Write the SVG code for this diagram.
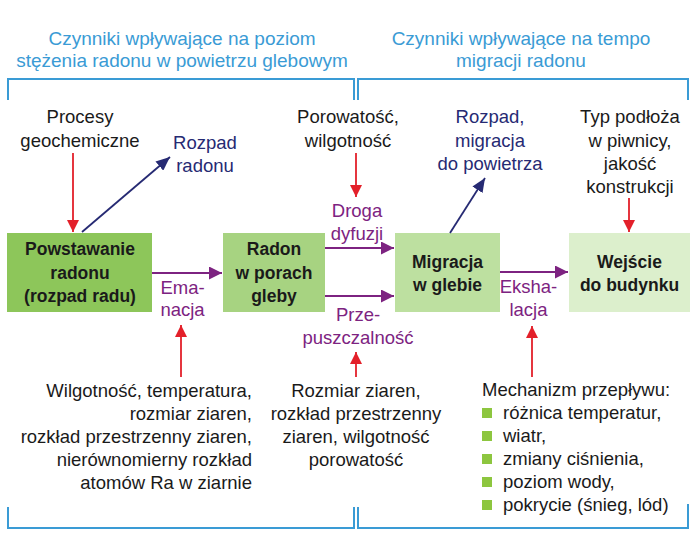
<svg xmlns="http://www.w3.org/2000/svg" width="700" height="541" viewBox="0 0 700 541">
<defs>
<style>
text{font-family:"Liberation Sans",Arial,sans-serif;}
.t{font-size:19px;fill:#3a9bd5;text-anchor:middle;}
.b{font-size:18.5px;fill:#1a1a1a;text-anchor:middle;}
.bx{font-size:17.5px;font-weight:bold;fill:#1a1a1a;text-anchor:middle;}
.nv{font-size:18.5px;fill:#262a73;text-anchor:middle;}
.pu{font-size:18.5px;fill:#7d2381;text-anchor:middle;}
.br{fill:none;stroke:#3a9bd5;stroke-width:2;}
.red{stroke:#e3202a;stroke-width:1.8;fill:none;marker-end:url(#mr);}
.nav{stroke:#262a73;stroke-width:1.8;fill:none;marker-end:url(#mn);}
.pur{stroke:#7d2381;stroke-width:2;fill:none;marker-end:url(#mp);}
.sq{fill:#8dc63f;}
</style>
<marker id="mr" viewBox="0 0 12 12" refX="12" refY="6" markerWidth="12" markerHeight="12" markerUnits="userSpaceOnUse" orient="auto"><path d="M0,0 L12,6 L0,12 Z" fill="#e3202a"/></marker>
<marker id="mn" viewBox="0 0 14 12" refX="14" refY="6" markerWidth="14" markerHeight="12" markerUnits="userSpaceOnUse" orient="auto"><path d="M0,0 L14,6 L0,12 Z" fill="#262a73"/></marker>
<marker id="mp" viewBox="0 0 13 13" refX="13" refY="6.5" markerWidth="13" markerHeight="13" markerUnits="userSpaceOnUse" orient="auto"><path d="M0,0 L13,6.5 L0,13 Z" fill="#7d2381"/></marker>
</defs>
<rect width="700" height="541" fill="#ffffff"/>

<g id="titles">
<text class="t" x="182" y="45">Czynniki wpływające na poziom</text>
<text class="t" x="182" y="67">stężenia radonu w powietrzu glebowym</text>
<text class="t" x="521" y="45">Czynniki wpływające na tempo</text>
<text class="t" x="521" y="67">migracji radonu</text>
</g>

<g id="brackets">
<path class="br" d="M8,100 V79 H354 V100"/>
<path class="br" d="M358,100 V79 H688 V100"/>
<path class="br" d="M8,507 V528 H354 V507"/>
<path class="br" d="M358,507 V528 H688 V504"/>
</g>

<g id="n1">
<rect x="7" y="233" width="145" height="79" fill="#8dc65a"/>
<text class="bx" x="80" y="255">Powstawanie</text>
<text class="bx" x="80" y="279">radonu</text>
<text class="bx" x="80" y="302">(rozpad radu)</text>
</g>
<g id="n2">
<rect x="223" y="233" width="102" height="79" fill="#a7d381"/>
<text class="bx" x="274" y="255">Radon</text>
<text class="bx" x="274" y="279">w porach</text>
<text class="bx" x="274" y="302">gleby</text>
</g>
<g id="n3">
<rect x="395" y="233" width="105" height="79" fill="#bde0a0"/>
<text class="bx" x="447.5" y="268">Migracja</text>
<text class="bx" x="447.5" y="291">w glebie</text>
</g>
<g id="n4">
<rect x="569" y="233" width="121" height="79" fill="#dcefcc"/>
<text class="bx" x="629.5" y="268">Wejście</text>
<text class="bx" x="629.5" y="291">do budynku</text>
</g>

<g id="factors">
<text class="b" x="80" y="123">Procesy</text>
<text class="b" x="80" y="147">geochemiczne</text>
<text class="nv" x="205" y="149">Rozpad</text>
<text class="nv" x="205" y="172">radonu</text>
<text class="b" x="348" y="123">Porowatość,</text>
<text class="b" x="348" y="147">wilgotność</text>
<text class="nv" x="490" y="123">Rozpad,</text>
<text class="nv" x="490" y="147">migracja</text>
<text class="nv" x="490" y="170">do powietrza</text>
<text class="b" x="630" y="123">Typ podłoża</text>
<text class="b" x="630" y="147">w piwnicy,</text>
<text class="b" x="630" y="170">jakość</text>
<text class="b" x="630" y="193">konstrukcji</text>

<text class="pu" x="182.5" y="294">Ema-</text>
<text class="pu" x="182.5" y="316">nacja</text>
<text class="pu" x="357" y="217">Droga</text>
<text class="pu" x="357" y="240">dyfuzji</text>
<text class="pu" x="358" y="321">Prze-</text>
<text class="pu" x="358" y="344">puszczalność</text>
<text class="pu" x="528.5" y="293">Eksha-</text>
<text class="pu" x="528.5" y="316">lacja</text>

<g text-anchor="end">
<text class="b" x="252" y="397" style="text-anchor:end">Wilgotność, temperatura,</text>
<text class="b" x="252" y="420" style="text-anchor:end">rozmiar ziaren,</text>
<text class="b" x="252" y="443" style="text-anchor:end">rozkład przestrzenny ziaren,</text>
<text class="b" x="252" y="466" style="text-anchor:end">nierównomierny rozkład</text>
<text class="b" x="252" y="489" style="text-anchor:end">atomów Ra w ziarnie</text>
</g>

<text class="b" x="356" y="397">Rozmiar ziaren,</text>
<text class="b" x="356" y="420">rozkład przestrzenny</text>
<text class="b" x="356" y="443">ziaren, wilgotność</text>
<text class="b" x="356" y="466">porowatość</text>

<text class="b" x="482" y="396" style="text-anchor:start">Mechanizm przepływu:</text>
<rect class="sq" x="482" y="408" width="10" height="10"/>
<text class="b" x="503" y="419" style="text-anchor:start">różnica temperatur,</text>
<rect class="sq" x="482" y="431" width="10" height="10"/>
<text class="b" x="503" y="442" style="text-anchor:start">wiatr,</text>
<rect class="sq" x="482" y="454" width="10" height="10"/>
<text class="b" x="503" y="465" style="text-anchor:start">zmiany ciśnienia,</text>
<rect class="sq" x="482" y="477" width="10" height="10"/>
<text class="b" x="503" y="488" style="text-anchor:start">poziom wody,</text>
<rect class="sq" x="482" y="500" width="10" height="10"/>
<text class="b" x="503" y="511" style="text-anchor:start">pokrycie (śnieg, lód)</text>
</g>

<g id="connectors">
<line class="red" x1="73" y1="153" x2="73" y2="232"/>
<line class="red" x1="356" y1="153" x2="356" y2="197"/>
<line class="red" x1="629" y1="198" x2="629" y2="232"/>
<line class="red" x1="181" y1="377" x2="181" y2="325"/>
<line class="red" x1="356" y1="377" x2="356" y2="352"/>
<line class="red" x1="532" y1="377" x2="532" y2="326"/>
<line class="nav" x1="82" y1="232" x2="170" y2="157"/>
<line class="nav" x1="450" y1="233" x2="485" y2="178"/>
<line class="pur" x1="152" y1="273" x2="222" y2="273"/>
<line class="pur" x1="325" y1="248" x2="394" y2="248"/>
<line class="pur" x1="325" y1="296" x2="394" y2="296"/>
<line class="pur" x1="500" y1="272" x2="568" y2="272"/>
</g>
</svg>
